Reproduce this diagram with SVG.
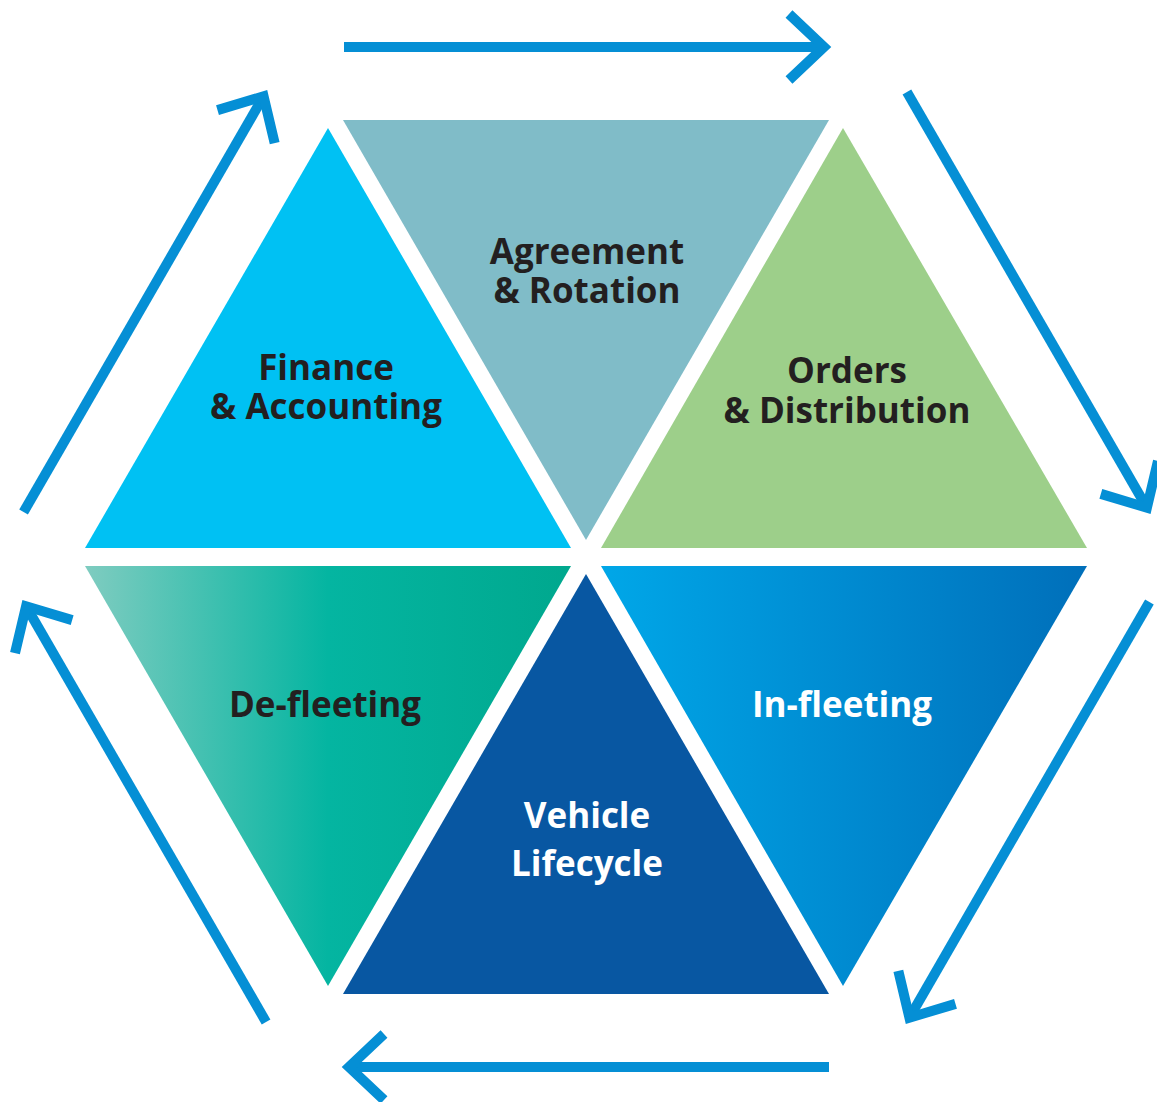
<svg xmlns="http://www.w3.org/2000/svg" width="1157" height="1102" viewBox="0 0 1157 1102">
<style>
.lbl{font-family:"Open Sans","Liberation Sans",sans-serif;font-weight:700;font-size:35px;text-anchor:middle;fill:#231F20}
.w{fill:#FFFFFF}
.arr{fill:none;stroke:#058FD5;stroke-width:10}
</style>
<defs>
<linearGradient id="gDe" gradientUnits="userSpaceOnUse" x1="85" y1="0" x2="571" y2="0">
<stop offset="0" stop-color="#7FCCC0"/>
<stop offset="0.5" stop-color="#04B5A1"/>
<stop offset="1" stop-color="#00A88E"/>
</linearGradient>
<linearGradient id="gIn" gradientUnits="userSpaceOnUse" x1="601" y1="0" x2="1087" y2="0">
<stop offset="0" stop-color="#00A7E8"/>
<stop offset="1" stop-color="#006FBA"/>
</linearGradient>
<g id="arrow">
<path d="M344,47 H824"/>
<path d="M789,14 L824,47 L789,80"/>
</g>
</defs>
<rect width="1157" height="1102" fill="#FFFFFF"/>
<g id="connectors" class="arr">
<use href="#arrow"/>
<use href="#arrow" transform="rotate(60 586.5 557)"/>
<use href="#arrow" transform="rotate(120 586.5 557)"/>
<use href="#arrow" transform="rotate(180 586.5 557)"/>
<use href="#arrow" transform="rotate(240 586.5 557)"/>
<use href="#arrow" transform="rotate(300 586.5 557)"/>
</g>
<g id="finance">
<polygon points="328,128 571,548 85,548" fill="#00C1F3"/>
<text class="lbl" x="326" y="380">Finance</text>
<text class="lbl" x="326" y="419">&amp; Accounting</text>
</g>
<g id="agreement">
<polygon points="343,120 829,120 586,540" fill="#80BCC8"/>
<text class="lbl" x="587" y="264">Agreement</text>
<text class="lbl" x="587" y="303">&amp; Rotation</text>
</g>
<g id="orders">
<polygon points="843,128 1087,548 601,548" fill="#9DCF8A"/>
<text class="lbl" x="847" y="383">Orders</text>
<text class="lbl" x="847" y="423">&amp; Distribution</text>
</g>
<g id="defleeting">
<polygon points="85,566 571,566 328,986" fill="url(#gDe)"/>
<text class="lbl" x="325" y="717">De-fleeting</text>
</g>
<g id="vehicle">
<polygon points="586,574 829,994 343,994" fill="#0857A2"/>
<text class="lbl w" x="587" y="828">Vehicle</text>
<text class="lbl w" x="587" y="876">Lifecycle</text>
</g>
<g id="infleeting">
<polygon points="601,566 1087,566 843,986" fill="url(#gIn)"/>
<text class="lbl w" x="842" y="717">In-fleeting</text>
</g>
</svg>
